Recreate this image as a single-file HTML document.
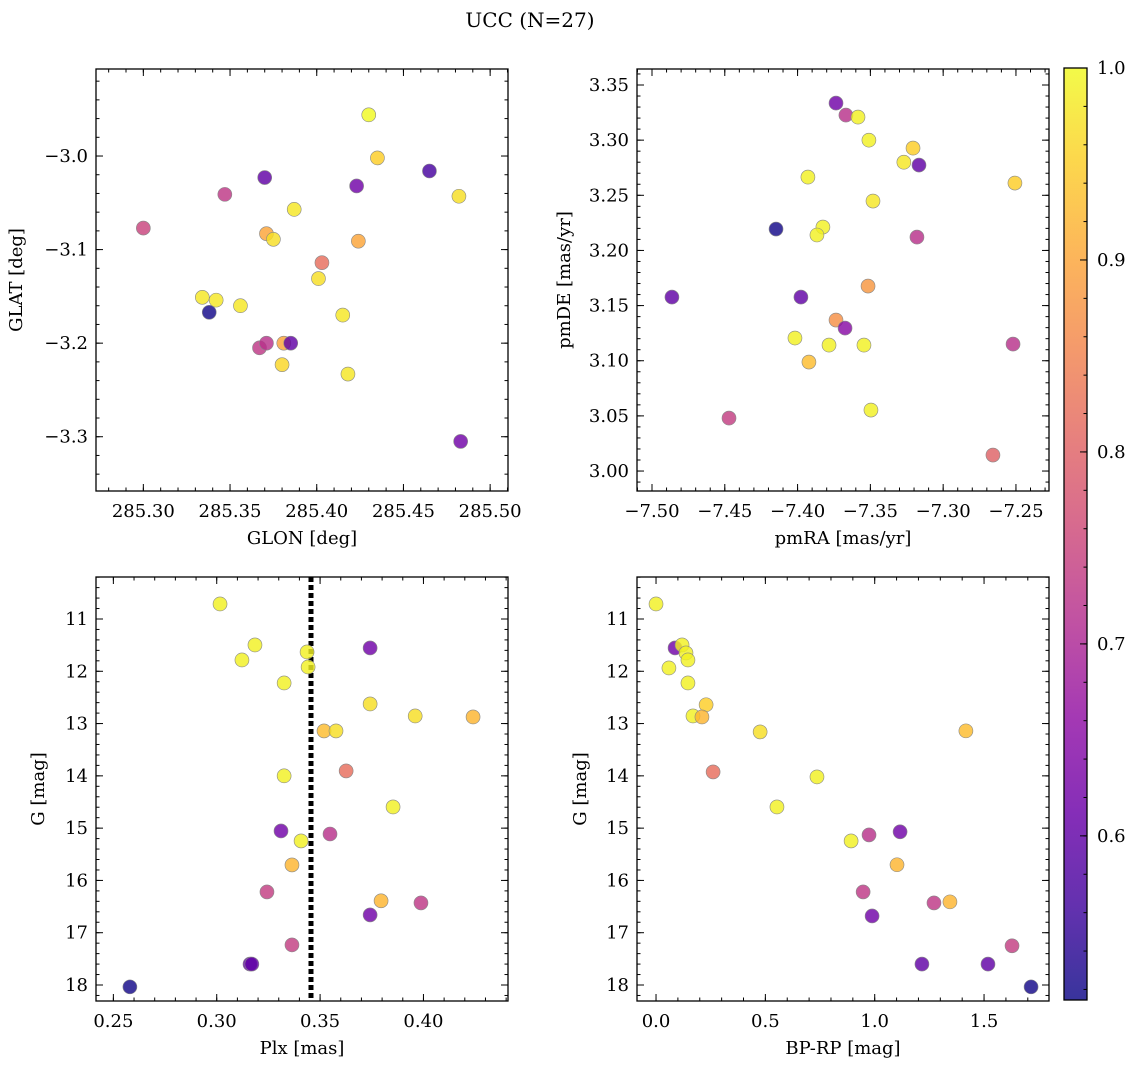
<!DOCTYPE html>
<html><head><meta charset="utf-8"><style>
body{margin:0;background:#fff}
svg{display:block;font-family:"DejaVu Serif","Liberation Serif",serif}
</style></head><body>
<svg id="fig" width="1136" height="1068" viewBox="0 0 1136 1068">
<defs>
<linearGradient id="cbgrad" x1="0" y1="1" x2="0" y2="0">
<stop offset="0" stop-color="#0d0887"/><stop offset="0.1" stop-color="#41049d"/><stop offset="0.2" stop-color="#6a00a8"/><stop offset="0.3" stop-color="#8f0da4"/><stop offset="0.4" stop-color="#b12a90"/><stop offset="0.5" stop-color="#cc4778"/><stop offset="0.6" stop-color="#e16462"/><stop offset="0.7" stop-color="#f2844b"/><stop offset="0.8" stop-color="#fca636"/><stop offset="0.9" stop-color="#fcce25"/><stop offset="1" stop-color="#f0f921"/>
</linearGradient>
</defs>
<text x="530" y="27" text-anchor="middle" font-size="20">UCC (N=27)</text>
</svg>
<script>
// ---- data ----
const glonVals=[285.300,285.347,285.370,285.430,285.435,285.423,285.465,285.482,285.387,285.371,285.375,285.403,285.424,285.401,285.334,285.342,285.356,285.415,285.338,285.367,285.371,285.380,285.381,285.385,285.418,285.483];
const glatVals=[-3.077,-3.041,-3.023,-2.956,-3.002,-3.032,-3.016,-3.043,-3.057,-3.083,-3.089,-3.114,-3.091,-3.131,-3.151,-3.154,-3.160,-3.170,-3.167,-3.205,-3.200,-3.223,-3.200,-3.200,-3.233,-3.305];
const glProb=[0.75,0.73,0.60,1.0,0.95,0.62,0.57,0.97,0.98,0.90,0.97,0.82,0.90,0.97,0.98,0.98,0.98,0.98,0.52,0.73,0.72,0.96,0.90,0.60,0.98,0.62];

const pmraVals=[-7.3736,-7.3668,-7.3585,-7.351,-7.3207,-7.327,-7.3166,-7.2507,-7.3929,-7.3482,-7.4148,-7.3826,-7.3867,-7.318,-7.4863,-7.3977,-7.3516,-7.3736,-7.3674,-7.4018,-7.3784,-7.3544,-7.252,-7.3922,-7.3496,-7.4471,-7.2658];
const pmdeVals=[3.3336,3.3227,3.3209,3.300,3.2928,3.280,3.2774,3.2611,3.2665,3.2448,3.2194,3.2212,3.214,3.2121,3.1577,3.1577,3.1677,3.1369,3.1296,3.1206,3.1142,3.1142,3.1151,3.0988,3.0553,3.048,3.0145];
const pmProb=[0.62,0.72,0.99,0.99,0.95,0.98,0.60,0.95,0.99,0.98,0.52,0.99,0.99,0.72,0.60,0.60,0.88,0.87,0.65,0.99,0.99,0.99,0.72,0.93,0.99,0.74,0.80];

const plxVals=[0.3016,0.3185,0.3122,0.3437,0.3442,0.3742,0.3326,0.3742,0.3960,0.4240,0.3519,0.3577,0.3626,0.3326,0.3853,0.3311,0.3548,0.3408,0.3364,0.3243,0.3795,0.3988,0.3742,0.3364,0.3161,0.3170,0.2580];
const gPlxVals=[10.713,11.497,11.784,11.631,11.918,11.554,12.224,12.625,12.855,12.874,13.141,13.141,13.906,14.00,14.595,15.054,15.112,15.245,15.704,16.22,16.39,16.43,16.66,17.233,17.60,17.60,18.036];
const plxProb=[0.99,0.99,0.99,0.99,0.99,0.62,0.99,0.97,0.97,0.92,0.93,0.97,0.82,0.99,0.99,0.62,0.72,0.99,0.92,0.74,0.92,0.73,0.62,0.74,0.60,0.60,0.52];
const plxMean=0.3456;

const bprpVals=[0.0,0.059,0.087,0.119,0.137,0.146,0.146,0.229,0.169,0.210,0.476,1.417,0.261,0.736,0.553,1.116,0.974,0.892,1.102,0.947,1.344,1.271,0.988,1.628,1.216,1.518,1.715];
const gColVals=[10.713,11.937,11.554,11.497,11.65,11.784,12.224,12.64,12.855,12.874,13.16,13.14,13.925,14.02,14.595,15.07,15.13,15.245,15.70,16.22,16.41,16.43,16.68,17.25,17.60,17.60,18.036];
const colProb=[0.99,0.99,0.62,0.99,0.99,0.99,0.99,0.95,0.99,0.92,0.97,0.93,0.82,0.99,0.99,0.62,0.72,0.99,0.92,0.73,0.92,0.73,0.62,0.74,0.60,0.60,0.52];

const cbTicks=[0.6,0.7,0.8,0.9,1.0];
const vmin=0.5145, vmax=1.0;

// ---- helpers ----
const NS="http://www.w3.org/2000/svg";
const svg=document.getElementById('fig');
const FS=18;
function mk(tag,attrs,parent){const e=document.createElementNS(NS,tag);for(const k in attrs)e.setAttribute(k,attrs[k]);(parent||svg).appendChild(e);return e;}
const stops=[[0,[13,8,135]],[0.1,[65,4,157]],[0.2,[106,0,168]],[0.3,[143,13,164]],[0.4,[177,42,144]],[0.5,[204,71,120]],[0.6,[225,100,98]],[0.7,[242,132,75]],[0.8,[252,166,54]],[0.9,[252,206,37]],[1,[240,249,33]]];
function plasma(v){let t=(v-vmin)/(vmax-vmin);t=Math.max(0,Math.min(1,t));for(let i=1;i<stops.length;i++){if(t<=stops[i][0]){const a=stops[i-1],b=stops[i];const f=(t-a[0])/(b[0]-a[0]);const c=a[1].map((x,j)=>Math.round(x+(b[1][j]-x)*f));return `rgb(${c[0]},${c[1]},${c[2]})`;}}return 'rgb(240,249,33)';}
function fmt(v,d){const s=Math.abs(v).toFixed(d);return (v<-1e-9?'\u2212':'')+s;}

function panel(o){
  const g=mk('g',{});
  
  
  const X=v=>o.x0+(v-o.xd[0])/(o.xd[1]-o.xd[0])*(o.x1-o.x0);
  const Y=o.inv?(v=>o.y0+(v-o.yd[0])/(o.yd[1]-o.yd[0])*(o.y1-o.y0)):(v=>o.y1-(v-o.yd[0])/(o.yd[1]-o.yd[0])*(o.y1-o.y0));
  const tg=mk('g',{stroke:'#000','stroke-width':1},g);
  function ticksX(step,len){const s=Math.ceil(o.xd[0]/step-1e-6);for(let i=s;i*step<=o.xd[1]+1e-9;i++){const px=X(i*step);mk('line',{x1:px,x2:px,y1:o.y1,y2:o.y1-len},tg);mk('line',{x1:px,x2:px,y1:o.y0,y2:o.y0+len},tg);}}
  function ticksY(step,len){const s=Math.ceil(o.yd[0]/step-1e-6);for(let i=s;i*step<=o.yd[1]+1e-9;i++){const py=Y(i*step);mk('line',{x1:o.x0,x2:o.x0+len,y1:py,y2:py},tg);mk('line',{x1:o.x1,x2:o.x1-len,y1:py,y2:py},tg);}}
  ticksX(o.xmin,3.5);ticksX(o.xmaj,7);ticksY(o.ymin,3.5);ticksY(o.ymaj,7);
  const s1=Math.ceil(o.xd[0]/o.xmaj-1e-6);
  for(let i=s1;i*o.xmaj<=o.xd[1]+1e-9;i++){const t=mk('text',{x:X(i*o.xmaj),y:o.y1+26,'text-anchor':'middle','font-size':FS},g);t.textContent=fmt(i*o.xmaj,o.xdec);}
  const s2=Math.ceil(o.yd[0]/o.ymaj-1e-6);
  for(let i=s2;i*o.ymaj<=o.yd[1]+1e-9;i++){const t=mk('text',{x:o.x0-8,y:Y(i*o.ymaj)+6,'text-anchor':'end','font-size':FS},g);t.textContent=fmt(i*o.ymaj,o.ydec);}
  const xl=mk('text',{x:(o.x0+o.x1)/2,y:o.y1+53,'text-anchor':'middle','font-size':FS},g);xl.textContent=o.xlab;
  
  const yl=mk('text',{x:o.ylx,y:(o.y0+o.y1)/2,'text-anchor':'middle','font-size':FS,transform:`rotate(-90 ${o.ylx} ${(o.y0+o.y1)/2})`},g);yl.textContent=o.ylab;
  
  if(o.vline!==undefined){const l=mk('line',{x1:X(o.vline),x2:X(o.vline),y1:o.y0,y2:o.y1,stroke:'#000','stroke-width':5,'stroke-dasharray':'5,3'},g);
    }
  for(let i=0;i<o.xs.length;i++){const c=mk('circle',{cx:X(o.xs[i]),cy:Y(o.ys[i]),r:7,fill:plasma(o.p[i]),'fill-opacity':0.82,stroke:'#888','stroke-width':0.6},g);
    }
  const fr=mk('rect',{x:o.x0,y:o.y0,width:o.x1-o.x0,height:o.y1-o.y0,fill:'none',stroke:'#000','stroke-width':1.3},g);
  
}

panel({name:'glon-glat-panel',x0:96,x1:508,y0:69,y1:491,xd:[285.2727,285.5103],yd:[-3.358,-2.907],xmaj:0.05,xmin:0.01,ymaj:0.1,ymin:0.02,xdec:2,ydec:1,xlab:'GLON [deg]',ylab:'GLAT [deg]',ylx:22,xs:glonVals,ys:glatVals,p:glProb});
panel({name:'pm-panel',x0:637,x1:1049,y0:69,y1:491,xd:[-7.5103,-7.2273],yd:[2.9819,3.3645],xmaj:0.05,xmin:0.01,ymaj:0.05,ymin:0.01,xdec:2,ydec:2,xlab:'pmRA [mas/yr]',ylab:'pmDE [mas/yr]',ylx:570,xs:pmraVals,ys:pmdeVals,p:pmProb});
panel({name:'plx-g-panel',x0:96,x1:508,y0:577,y1:1001,xd:[0.2416,0.4409],yd:[10.197,18.306],inv:true,xmaj:0.05,xmin:0.01,ymaj:1,ymin:0.2,xdec:2,ydec:0,xlab:'Plx [mas]',ylab:'G [mag]',ylx:44,vline:plxMean,xs:plxVals,ys:gPlxVals,p:plxProb});
panel({name:'cmd-panel',x0:637,x1:1049,y0:577,y1:1001,xd:[-0.087,1.797],yd:[10.197,18.306],inv:true,xmaj:0.5,xmin:0.1,ymaj:1,ymin:0.2,xdec:1,ydec:0,xlab:'BP-RP [mag]',ylab:'G [mag]',ylx:586,xs:bprpVals,ys:gColVals,p:colProb});

// colorbar
const cb=mk('g',{});


const cx0=1064,cx1=1087,cy0=68,cy1=1000;
mk('rect',{x:cx0,y:cy0,width:cx1-cx0,height:cy1-cy0,fill:'url(#cbgrad)','fill-opacity':0.82},cb);
const CY=v=>cy1-(v-vmin)/(vmax-vmin)*(cy1-cy0);
for(let i=Math.ceil(vmin/0.02);i*0.02<=vmax+1e-9;i++){const py=CY(i*0.02);mk('line',{x1:cx1,x2:cx1-3.5,y1:py,y2:py,stroke:'#000'},cb);}
for(const t of cbTicks){const py=CY(t);mk('line',{x1:cx1,x2:cx1-7,y1:py,y2:py,stroke:'#000'},cb);
  const tx=mk('text',{x:cx1+10,y:py+6,'font-size':FS},cb);tx.textContent=t.toFixed(1);
  }
mk('rect',{x:cx0,y:cy0,width:cx1-cx0,height:cy1-cy0,fill:'none',stroke:'#000','stroke-width':1.3},cb);
</script>
</body></html>
